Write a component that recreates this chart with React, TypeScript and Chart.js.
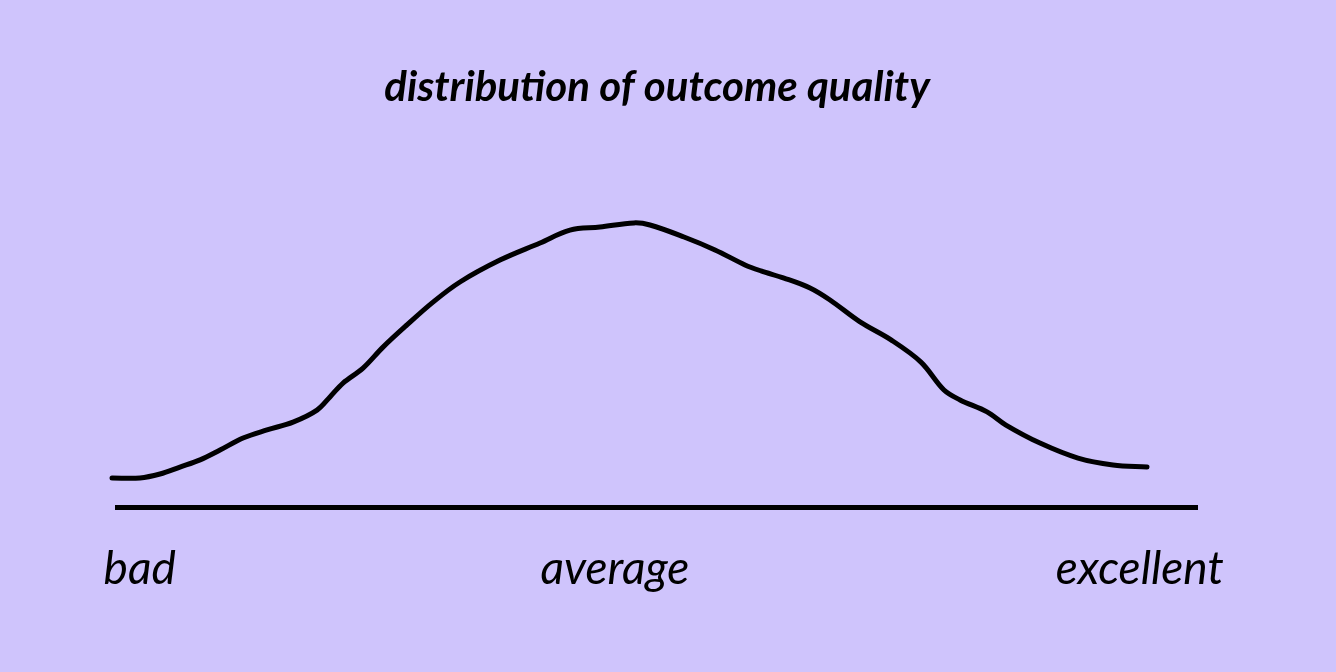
import React, { useEffect, useRef } from "react";
import { Chart, registerables } from "chart.js";

Chart.register(...registerables);

const TITLE = "distribution of outcome quality";
// quality position (0 = left end of axis, 100 = right end)
const QUALITY = [
  -0.46, 2.13, 3.98, 5.83, 7.69, 9.54, 11.67, 13.89, 16.3, 18.52, 19.72, 20.93,
  22.78, 24.63, 26.85, 29.26, 31.76, 35.46, 39.17, 41.94, 44.72, 47.87, 49.35,
  52.5, 55.37, 58.15, 59.63, 61.76, 64.17, 66.02, 68.8, 71.67, 74.44, 76.57,
  78.06, 80.56, 82.31, 85.46, 88.98, 92.22, 95.37,
];
// relative frequency
const FREQUENCY = [
  9.67, 9.67, 11.0, 13.3, 15.7, 19.0, 23.0, 25.7, 28.3, 32.3, 36.7, 41.3, 46.3,
  53.3, 60.7, 68.3, 75.0, 82.3, 88.0, 92.3, 93.3, 94.7, 94.0, 90.0, 85.7, 80.7,
  78.7, 76.3, 73.0, 69.0, 61.7, 55.7, 48.3, 39.0, 35.7, 31.7, 27.3, 21.3, 16.3,
  14.0, 13.3,
];
const TICK_VALUES = [2.1, 46.1, 94.7];
const TICK_LABELS = ["bad", "average", "excellent"];

const BG = "#cfc4fc";
const FONT = "Lato";

export default function App() {
  const ref = useRef<HTMLCanvasElement>(null);
  useEffect(() => {
    document.body.style.margin = "0";
    document.body.style.background = BG;
    const ctx = ref.current!;
    const chart = new Chart(ctx, {
      type: "line",
      data: {
        datasets: [
          {
            data: QUALITY.map((x, i) => ({ x, y: FREQUENCY[i] })),
            borderColor: "#000",
            borderWidth: 5,
            borderCapStyle: "round",
            borderJoinStyle: "round",
            pointRadius: 0,
            tension: 0.35,
            fill: false,
            clip: false as any,
          },
        ],
      },
      options: {
        animation: false,
        responsive: false,
        layout: { padding: { left: 117, right: 139, top: 0, bottom: 39.8 } },
        plugins: {
          legend: { display: false },
          tooltip: { enabled: false },
          title: {
            display: true,
            text: TITLE,
            color: "#000",
            font: { family: FONT, size: 42, style: "italic", weight: "bold", lineHeight: 1.2 },
            padding: { top: 61.8, bottom: 94.8 },
          },
        },
        scales: {
          x: {
            type: "linear",
            min: 0,
            max: 100,
            grid: { display: false, drawTicks: false },
            border: { display: true, color: "#000", width: 5 },
            afterBuildTicks: (scale: any) => {
              scale.ticks = TICK_VALUES.map((v) => ({ value: v }));
            },
            ticks: {
              autoSkip: false,
              maxRotation: 0,
              padding: 35,
              color: "#000",
              font: { family: FONT, size: 46, style: "italic", lineHeight: 1.2 },
              callback: (_v: any, i: number) => TICK_LABELS[i],
            },
          },
          y: { display: false, min: 0, max: 100 },
        },
      },
    });
    return () => chart.destroy();
  }, []);
  return (
    <div style={{ width: 1336, height: 672, background: BG }}>
      <canvas ref={ref} width={1336} height={672} />
    </div>
  );
}
